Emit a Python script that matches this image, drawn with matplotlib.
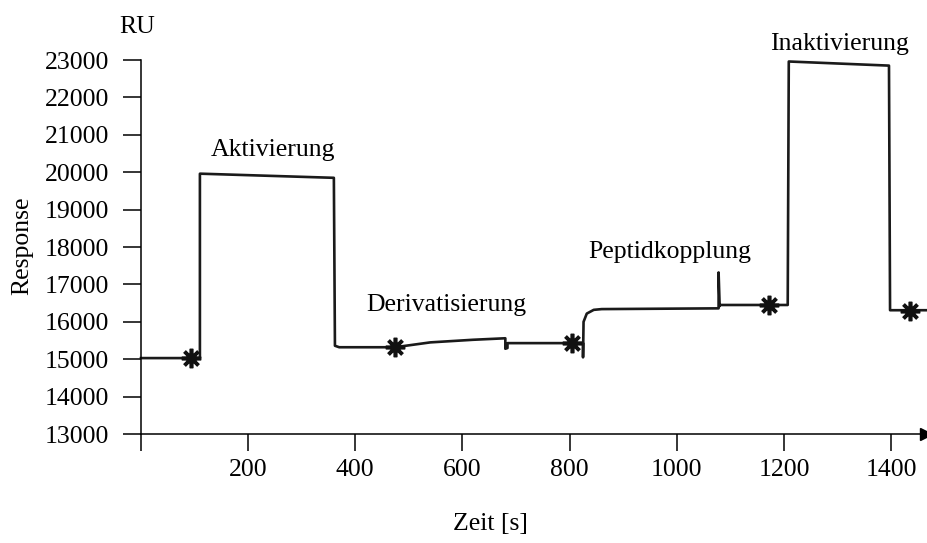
import matplotlib.pyplot as plt

plt.rcParams['font.family'] = ['Liberation Serif', 'DejaVu Serif']

# sensorgram trace (time in s, response in RU)
zeit = [0, 110, 110, 112, 360, 362, 370, 474, 540, 620, 680, 680, 684, 684,
        804, 825, 825, 826, 832, 845, 860, 1078, 1078, 1080, 1080, 1173,
        1207, 1209, 1396, 1398, 1468]
response = [15030, 15030, 19960, 19960, 19850, 15360, 15320, 15320, 15450,
            15520, 15560, 15280, 15300, 15430, 15430, 15430, 15050, 16000,
            16220, 16320, 16340, 16360, 17320, 16420, 16450, 16450, 16450,
            22960, 22850, 16310, 16310]

# injection marks
mark_zeit = [93, 474, 804, 1173, 1435]
mark_response = [15030, 15320, 15430, 16450, 16300]

# phase labels: (text, time, response)
phasen = ["Aktivierung", "Derivatisierung", "Peptidkopplung", "Inaktivierung"]
phase_zeit = [247, 569, 987, 1304]
phase_response = [20430, 16290, 17700, 23270]

xticks = [0, 200, 400, 600, 800, 1000, 1200, 1400]
xtick_labels = ["", "200", "400", "600", "800", "1000", "1200", "1400"]
yticks = [13000, 14000, 15000, 16000, 17000, 18000, 19000, 20000, 21000,
          22000, 23000]

fs = 18.5

fig = plt.figure(figsize=(9.28, 5.43), dpi=100)
ax = fig.add_axes([0.1519, 0.2007, 0.8459, 0.6888])

ax.plot(zeit, response, color="#1a1a1a", lw=1.9, clip_on=False,
        solid_joinstyle="round")
ax.plot(mark_zeit, mark_response, ls="none", marker=(8, 2, 0), ms=14,
        mew=2.6, color="#111111", clip_on=False)

for txt, tx, ty in zip(phasen, phase_zeit, phase_response):
    ax.text(tx, ty, txt, ha="center", va="baseline", fontsize=fs)

ax.set_xlim(0, 1465)
ax.set_ylim(13000, 23000)
ax.set_xticks(xticks)
ax.set_xticklabels(xtick_labels)
ax.set_yticks(yticks)
ax.set_yticklabels([str(v) for v in yticks])

ax.spines["top"].set_visible(False)
ax.spines["right"].set_visible(False)
for s in ("left", "bottom"):
    ax.spines[s].set_linewidth(1.1)
ax.tick_params(axis="y", direction="out", length=13, width=1.1, pad=10,
               labelsize=fs)
ax.tick_params(axis="x", direction="out", length=12, width=1.1, pad=6,
               labelsize=fs)

# arrow head at the end of the time axis
ax.plot(1.0, 0.0, ">", color="black", ms=9, transform=ax.transAxes,
        clip_on=False)

fig.text(137 / 928, 1 - 33 / 543, "RU", ha="center", va="baseline",
         fontsize=fs)
fig.text(22 / 928, 1 - 246 / 543, "Response", rotation=90, ha="center",
         va="center", fontsize=fs)
fig.text(490 / 928, 1 - 530 / 543, "Zeit [s]", ha="center", va="baseline",
         fontsize=fs)

fig.savefig("out.png", dpi=100)
